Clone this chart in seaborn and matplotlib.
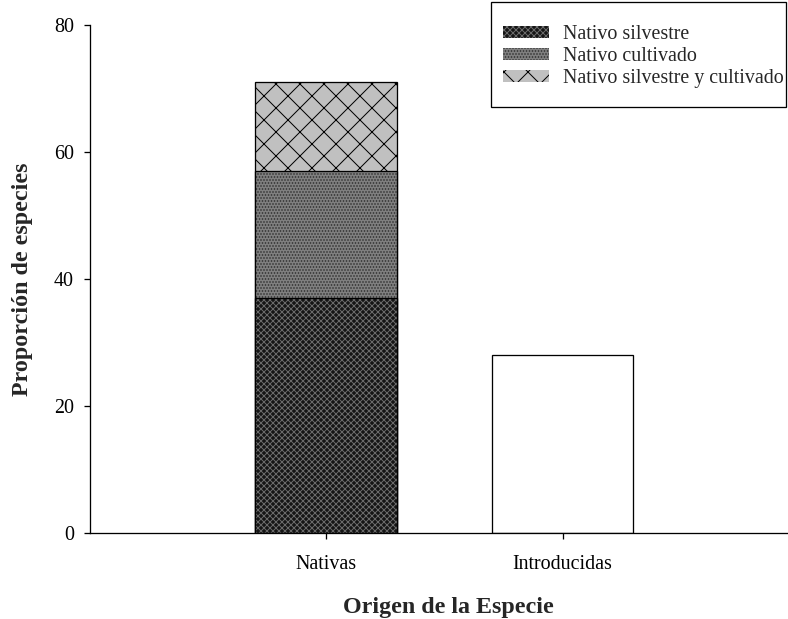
import matplotlib
matplotlib.use("Agg")
import matplotlib.pyplot as plt
import seaborn as sns
import pandas as pd
from matplotlib.patches import Patch, Rectangle

# Data
categories = ["Nativas", "Introducidas"]
silvestre = [37, 0]
cultivado = [20, 0]
silv_cult = [14, 0]
introducidas = [0, 28]
legend_labels = ["Nativo silvestre", "Nativo cultivado", "Nativo silvestre y cultivado"]

sns.set_theme(style="white")
plt.rcParams["font.family"] = ["Liberation Serif", "DejaVu Serif"]
plt.rcParams["hatch.linewidth"] = 1.0

W, H, DPI = 788, 619, 72
fig = plt.figure(figsize=(W / DPI, H / DPI), dpi=DPI)
ax = fig.add_axes([90 / W, 1 - 533 / H, (806 - 90) / W, (533 - 25) / H])

df = pd.DataFrame({
    "origen": categories,
    "silvestre": silvestre,
    "cultivado": cultivado,
    "silv_cult": silv_cult,
    "introducidas": introducidas,
})
df["top1"] = df["silvestre"]
df["top2"] = df["silvestre"] + df["cultivado"]
df["top3"] = df["top2"] + df["silv_cult"]

# (column, face, hatch, hatch colour) drawn tallest first so lower segments cover them
layers = [
    ("top3", "#c0c0c0", "x", "black"),
    ("top2", "#7f7f7f", "....", "#2e2e2e"),
    ("top1", "#151515", "xxxx", "#6a6a6a"),
]
width = 0.6
lw = 1.3
nat = df[df["origen"] == "Nativas"]
for col, face, hatch, hcol in layers:
    sns.barplot(data=nat, x="origen", y=col, order=categories, color=face,
                saturation=1, width=width, hatch=hatch, edgecolor=hcol,
                linewidth=0, ax=ax)
    sns.barplot(data=nat, x="origen", y=col, order=categories, fill=False,
                width=width, edgecolor="black", linewidth=lw, ax=ax)

intro = df[df["origen"] == "Introducidas"]
sns.barplot(data=intro, x="origen", y="introducidas", order=categories,
            color="white", saturation=1, width=width, edgecolor="black",
            linewidth=lw, ax=ax)

ax.set_xlim(-1.0, 2.03)
ax.set_ylim(0, 80)
ax.set_yticks([0, 20, 40, 60, 80])
for s in ["top", "right"]:
    ax.spines[s].set_visible(False)
for s in ["left", "bottom"]:
    ax.spines[s].set_color("black")
    ax.spines[s].set_linewidth(lw)
ax.tick_params(axis="both", direction="out", length=6, width=lw, color="black",
               labelsize=20, labelcolor="black", bottom=True, left=True)
ax.tick_params(axis="x", pad=16)
ax.tick_params(axis="y", pad=10)
ax.set_xlabel("Origen de la Especie", fontsize=24, fontweight="bold", labelpad=23)
ax.set_ylabel("Proporción de especies", fontsize=24, fontweight="bold", labelpad=21)

handles = [
    Patch(facecolor="#151515", hatch="xxxx", edgecolor="#6a6a6a", linewidth=0),
    Patch(facecolor="#7f7f7f", hatch="....", edgecolor="#2e2e2e", linewidth=0),
    Patch(facecolor="#c0c0c0", hatch="x", edgecolor="black", linewidth=0),
]
leg = ax.legend(handles, legend_labels, loc="upper left",
                bbox_to_anchor=(503 / W, 1 - 25 / H), bbox_transform=fig.transFigure,
                fontsize=20, frameon=False, handlelength=2.3,
                handleheight=0.55, handletextpad=0.7, labelspacing=0.15,
                borderpad=0, borderaxespad=0)

# Legend frame
fig.patches.append(Rectangle((491 / W, 1 - 107 / H), (786 - 491) / W, 105 / H,
                             transform=fig.transFigure, fill=False,
                             edgecolor="black", linewidth=lw, zorder=5))

fig.savefig("out.png", dpi=DPI)
